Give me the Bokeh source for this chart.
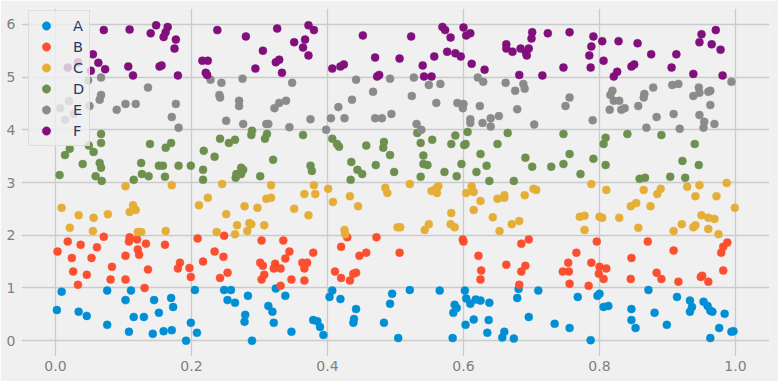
from bokeh.plotting import figure
from bokeh.models import FixedTicker, NumeralTickFormatter, Range1d, Legend
from bokeh.embed import file_html
from bokeh.resources import INLINE

groups = ["A", "B", "C", "D", "E", "F"]
colors = ["#008fd5", "#fc4f30", "#e5ae38", "#6d904f", "#8b8b8b", "#810f7c"]
x_ticks = [0.0, 0.2, 0.4, 0.6, 0.8, 1.0]
y_ticks = [0, 1, 2, 3, 4, 5, 6]

A_x = [0.002, 0.009, 0.034, 0.046, 0.076, 0.076, 0.103, 0.111, 0.108, 0.115, 0.130, 0.145, 0.152, 0.143, 0.159,
       0.170, 0.173, 0.171, 0.192, 0.199, 0.205, 0.208,
       0.248, 0.258, 0.253, 0.264, 0.283, 0.279, 0.278, 0.289, 0.313, 0.319, 0.321, 0.324, 0.338, 0.347, 0.379,
       0.385, 0.389, 0.394, 0.403, 0.407, 0.419, 0.442, 0.439, 0.438, 0.483, 0.492, 0.495,
       0.521, 0.504, 0.565, 0.584, 0.602, 0.604, 0.610, 0.618, 0.625, 0.638, 0.587, 0.590, 0.585, 0.615, 0.603,
       0.637, 0.635, 0.660, 0.657, 0.674, 0.681, 0.679, 0.696, 0.710, 0.734, 0.756,
       0.768, 0.787, 0.797, 0.800, 0.806, 0.813, 0.847, 0.847, 0.853, 0.872, 0.881, 0.899, 0.914, 0.933, 0.936,
       0.933, 0.953, 0.959, 0.963, 0.966, 0.984, 0.976, 0.963, 0.994, 0.997]
A_y = [0.58, 0.93, 0.55, 0.47, 0.95, 0.30, 0.77, 0.95, 0.17, 0.45, 0.45, 0.77, 0.53, 0.13, 0.18,
       0.81, 0.64, 0.20, 0.00, 0.34, 0.96, 0.15,
       0.96, 0.96, 0.77, 0.72, 0.85, 0.49, 0.36, 0.00, 0.66, 0.55, 0.34, 0.99, 0.85, 0.17, 0.39,
       0.37, 0.26, 0.11, 0.83, 0.95, 0.79, 0.60, 0.41, 0.34, 0.34, 0.70, 0.89,
       0.96, 0.05, 0.95, 0.05, 0.95, 0.80, 0.70, 0.78, 0.76, 0.72, 0.68, 0.62, 0.53, 0.40, 0.30,
       0.39, 0.15, 0.17, 0.06, 0.04, 0.98, 0.81, 0.45, 0.95, 0.32, 0.24,
       0.83, 0.01, 0.85, 0.89, 0.64, 0.66, 0.60, 0.39, 0.24, 0.96, 0.53, 0.30, 0.83, 0.76, 0.64,
       0.55, 0.74, 0.66, 0.57, 0.55, 0.51, 0.24, 0.05, 0.17, 0.18]

B_x = [0.003, 0.018, 0.024, 0.026, 0.033, 0.037, 0.046, 0.053, 0.061, 0.071, 0.083, 0.081, 0.103, 0.103, 0.109,
       0.108, 0.120, 0.121, 0.123, 0.133, 0.136, 0.131, 0.161, 0.183, 0.180, 0.197, 0.199, 0.209, 0.217, 0.234, 0.242,
       0.248, 0.247, 0.253, 0.303, 0.335, 0.344, 0.338, 0.301, 0.305, 0.323, 0.321, 0.331, 0.307, 0.303, 0.331,
       0.347, 0.363, 0.370, 0.366, 0.366, 0.379, 0.420, 0.429, 0.411, 0.420, 0.433, 0.438, 0.442, 0.447, 0.457, 0.472,
       0.506, 0.599, 0.600, 0.622, 0.626, 0.625, 0.663, 0.685, 0.696, 0.691, 0.685, 0.682, 0.746, 0.754, 0.755, 0.756,
       0.766, 0.796, 0.788, 0.800, 0.799, 0.810, 0.806, 0.784, 0.847, 0.846, 0.871, 0.884, 0.891, 0.909, 0.916,
       0.949, 0.951, 0.960, 0.979, 0.982, 0.988, 0.982]
B_y = [1.69, 1.88, 1.57, 1.31, 1.06, 1.82, 1.25, 1.57, 1.77, 1.97, 1.40, 1.16, 1.61, 1.16, 1.96,
       1.88, 1.92, 1.73, 1.63, 1.84, 1.35, 1.00, 1.82, 1.48, 1.37, 1.38, 1.21, 1.94, 1.50, 1.69, 1.19,
       1.99, 1.59, 1.29, 1.90, 1.90, 1.69, 1.56, 1.48, 1.42, 1.46, 1.37, 1.37, 1.25, 1.16, 1.04,
       1.16, 1.48, 1.48, 1.37, 1.14, 1.67, 1.78, 1.96, 1.31, 1.19, 1.14, 1.27, 1.29, 1.61, 1.67, 1.96,
       1.67, 1.92, 1.88, 1.61, 1.33, 1.16, 1.44, 1.84, 1.92, 1.42, 1.31, 1.06, 1.31, 1.48, 1.31, 1.08,
       1.67, 1.88, 1.48, 1.40, 1.27, 1.37, 1.17, 1.04, 1.57, 1.17, 1.88, 1.29, 1.17, 1.71, 1.12,
       1.21, 1.23, 1.12, 1.67, 1.78, 1.86, 1.33]

C_x = [0.103, 0.171, 0.009, 0.034, 0.056, 0.077, 0.021, 0.055, 0.114, 0.118, 0.109, 0.121, 0.126, 0.162, 0.211,
       0.224, 0.237,
       0.245, 0.317, 0.251, 0.278, 0.297, 0.310, 0.317, 0.267, 0.285, 0.288, 0.282, 0.307, 0.264, 0.351, 0.372,
       0.366, 0.380, 0.382, 0.401, 0.408, 0.433, 0.445, 0.425, 0.426, 0.485, 0.488,
       0.521, 0.563, 0.560, 0.553, 0.561, 0.612, 0.615, 0.604, 0.625, 0.615, 0.650, 0.660, 0.660, 0.690, 0.703,
       0.707, 0.582, 0.643, 0.549, 0.581, 0.587, 0.503, 0.507, 0.543, 0.653, 0.671, 0.682,
       0.788, 0.810, 0.865, 0.890, 0.885, 0.854, 0.846, 0.875, 0.929, 0.947, 0.941, 0.972, 0.987, 0.999, 0.771,
       0.778, 0.800, 0.804, 0.829, 0.778, 0.857, 0.909, 0.921, 0.938, 0.941, 0.950, 0.960, 0.969, 0.960, 0.975]
C_y = [2.93, 2.95, 2.52, 2.38, 2.33, 2.40, 2.14, 2.08, 2.57, 2.48, 2.44, 2.06, 2.06, 2.08, 2.57,
       2.71, 2.06,
       2.97, 2.95, 2.40, 2.55, 2.52, 2.69, 2.71, 2.19, 2.23, 2.21, 2.08, 2.19, 2.02, 2.50, 2.38,
       2.78, 2.95, 2.78, 2.88, 2.63, 2.74, 2.55, 2.10, 2.02, 2.90, 2.80,
       2.97, 2.93, 2.89, 2.84, 2.80, 2.93, 2.82, 2.80, 2.65, 2.48, 2.69, 2.76, 2.71, 2.76, 2.88,
       2.86, 2.42, 2.34, 2.21, 2.21, 2.15, 2.15, 2.15, 2.10, 2.08, 2.21, 2.27,
       2.97, 2.86, 2.86, 2.88, 2.78, 2.61, 2.55, 2.55, 2.92, 2.95, 2.74, 2.74, 2.99, 2.52, 2.35,
       2.37, 2.35, 2.33, 2.33, 2.10, 2.14, 2.08, 2.21, 2.15, 2.19, 2.38, 2.33, 2.31, 2.12, 2.02]

D_x = [0.067, 0.067, 0.049, 0.056, 0.021, 0.014, 0.040, 0.065, 0.067, 0.006, 0.059, 0.068, 0.139, 0.126, 0.127,
       0.137, 0.115, 0.162, 0.170, 0.152, 0.158, 0.161, 0.181, 0.199, 0.217, 0.217, 0.218, 0.234, 0.242,
       0.255, 0.264, 0.289, 0.288, 0.311, 0.308, 0.320, 0.273, 0.276, 0.273, 0.266, 0.265, 0.301, 0.364, 0.375,
       0.377, 0.407, 0.414, 0.417, 0.435, 0.444, 0.451, 0.434, 0.457, 0.483, 0.482, 0.492, 0.471, 0.498,
       0.532, 0.537, 0.554, 0.541, 0.541, 0.547, 0.537, 0.572, 0.590, 0.588, 0.582, 0.606, 0.603, 0.601, 0.597,
       0.625, 0.619, 0.634, 0.638, 0.650, 0.665, 0.674, 0.691, 0.701, 0.729, 0.747, 0.747, 0.756,
       0.772, 0.791, 0.809, 0.806, 0.809, 0.841, 0.891, 0.859, 0.867, 0.904, 0.922, 0.926, 0.940, 0.946]
D_y = [3.92, 3.75, 3.70, 3.58, 3.64, 3.52, 3.35, 3.37, 3.28, 3.14, 3.12, 3.03, 3.73, 3.37, 3.16,
       3.12, 3.05, 3.66, 3.75, 3.32, 3.32, 3.11, 3.32, 3.32, 3.24, 3.05, 3.60, 3.49, 3.83,
       3.75, 3.81, 3.98, 3.90, 3.92, 3.83, 3.43, 3.28, 3.24, 3.16, 3.16, 3.09, 3.12, 3.90, 3.32,
       3.22, 3.83, 3.73, 3.68, 3.39, 3.24, 3.16, 3.05, 3.70, 3.77, 3.66, 3.52, 3.33, 3.20,
       3.94, 3.75, 3.81, 3.51, 3.35, 3.33, 3.11, 3.20, 3.12, 3.89, 3.73, 3.96, 3.73, 3.71, 3.35,
       3.54, 3.20, 3.32, 3.03, 3.73, 3.94, 3.03, 3.47, 3.30, 3.30, 3.92, 3.35, 3.54,
       3.16, 3.45, 3.85, 3.73, 3.33, 3.92, 3.90, 3.07, 3.09, 3.11, 3.41, 3.09, 3.73, 3.33]

E_x = [0.048, 0.067, 0.067, 0.065, 0.050, 0.020, 0.007, 0.014, 0.027, 0.090, 0.103, 0.118, 0.136, 0.177, 0.171,
       0.181, 0.228,
       0.244, 0.275, 0.241, 0.242, 0.270, 0.270, 0.251, 0.276, 0.310, 0.313, 0.322, 0.329, 0.339, 0.348, 0.344,
       0.375, 0.405, 0.425, 0.416, 0.436, 0.442, 0.467, 0.492, 0.494, 0.470, 0.480, 0.398,
       0.527, 0.549, 0.566, 0.524, 0.560, 0.591, 0.600, 0.599, 0.621, 0.629, 0.662, 0.688, 0.690, 0.676, 0.624,
       0.679, 0.652, 0.640, 0.610, 0.610, 0.628, 0.531, 0.750, 0.756, 0.704, 0.640, 0.538,
       0.790, 0.819, 0.816, 0.821, 0.829, 0.815, 0.832, 0.837, 0.857, 0.866, 0.865, 0.879, 0.884, 0.869, 0.907,
       0.916, 0.909, 0.938, 0.946, 0.947, 0.960, 0.963, 0.963, 0.947, 0.954, 0.969, 0.994, 0.918, 0.953]
E_y = [4.94, 4.99, 4.66, 4.57, 4.45, 4.54, 4.41, 4.19, 4.30, 4.38, 4.49, 4.49, 4.80, 4.49, 4.24,
       4.04, 4.95,
       4.89, 4.97, 4.66, 4.61, 4.55, 4.45, 4.17, 4.11, 4.11, 4.11, 4.41, 4.51, 4.55, 4.89, 4.05,
       4.20, 4.22, 4.22, 4.43, 4.57, 4.95, 4.72, 4.97, 4.30, 4.22, 4.22, 4.00,
       4.99, 4.85, 4.87, 4.64, 4.51, 4.51, 4.49, 4.41, 4.99, 4.91, 4.89, 4.87, 4.78, 4.74, 4.45,
       4.39, 4.26, 4.22, 4.20, 4.13, 4.13, 4.11, 4.45, 4.61, 4.10, 4.06, 4.00,
       4.18, 4.74, 4.66, 4.55, 4.55, 4.38, 4.38, 4.41, 4.45, 4.68, 4.61, 4.80, 4.24, 4.04, 4.85,
       4.87, 4.30, 4.64, 4.80, 4.70, 4.72, 4.74, 4.47, 4.28, 4.15, 4.11, 4.91, 4.02, 4.04]

F_x = [0.071, 0.109, 0.148, 0.165, 0.140, 0.162, 0.159, 0.177, 0.175, 0.055, 0.063, 0.052, 0.073, 0.107, 0.114,
       0.153, 0.156, 0.180, 0.216, 0.224, 0.221, 0.223, 0.238, 0.018, 0.033,
       0.280, 0.326, 0.372, 0.380, 0.367, 0.351, 0.364, 0.372, 0.305, 0.329, 0.324, 0.294, 0.333, 0.407, 0.419,
       0.424, 0.452, 0.470, 0.473, 0.476,
       0.523, 0.506, 0.569, 0.573, 0.581, 0.600, 0.604, 0.610, 0.557, 0.576, 0.588, 0.596, 0.540, 0.542, 0.553,
       0.612, 0.631, 0.663, 0.663, 0.672, 0.684, 0.696, 0.692, 0.693, 0.701, 0.700, 0.724, 0.682, 0.716, 0.747, 0.756,
       0.791, 0.788, 0.785, 0.787, 0.804, 0.828, 0.806, 0.826, 0.821, 0.847, 0.851, 0.856, 0.876, 0.913, 0.906,
       0.938, 0.947, 0.950, 0.971, 0.965, 0.978, 0.981]
F_y = [5.89, 5.90, 5.98, 5.95, 5.83, 5.85, 5.76, 5.71, 5.54, 5.43, 5.27, 5.12, 5.15, 5.20, 5.03,
       5.20, 5.22, 5.03, 5.31, 5.31, 5.08, 5.04, 5.89, 5.18, 5.28,
       5.77, 5.92, 5.98, 5.89, 5.71, 5.66, 5.56, 5.41, 5.50, 5.33, 5.28, 5.16, 5.08, 5.16, 5.20,
       5.24, 5.79, 5.37, 5.01, 5.04,
       5.77, 5.35, 5.95, 5.89, 5.75, 5.94, 5.79, 5.83, 5.39, 5.48, 5.45, 5.39, 5.22, 5.01, 5.01,
       5.25, 5.14, 5.62, 5.54, 5.48, 5.54, 5.54, 5.46, 5.41, 5.85, 5.73, 5.83, 5.04, 5.03, 5.18, 5.85,
       5.77, 5.58, 5.41, 5.18, 5.68, 5.68, 5.31, 5.10, 5.01, 5.20, 5.24, 5.64, 5.43, 5.43, 5.18,
       5.06, 5.66, 5.81, 5.89, 5.62, 5.52, 5.03]

series_x = [A_x, B_x, C_x, D_x, E_x, F_x]
series_y = [A_y, B_y, C_y, D_y, E_y, F_y]

BG = "#f0f0f0"
FONT = "DejaVu Sans"

p = figure(width=778, height=381, output_backend="svg", toolbar_location=None,
           x_range=Range1d(-0.05, 1.05), y_range=Range1d(-0.3, 6.3),
           min_border_left=21, min_border_right=9, min_border_top=8, min_border_bottom=25)
p.background_fill_color = BG
p.border_fill_color = BG
p.outline_line_color = None

for ax in (p.xaxis[0], p.yaxis[0]):
    ax.axis_line_color = None
    ax.major_tick_line_color = None
    ax.minor_tick_line_color = None
    ax.major_tick_out = 0
    ax.major_tick_in = 0
    ax.major_label_text_font = FONT
    ax.major_label_text_font_size = "14px"
    ax.major_label_text_color = "#808080"

p.xaxis[0].ticker = FixedTicker(ticks=x_ticks)
p.xaxis[0].formatter = NumeralTickFormatter(format="0.0")
p.xaxis[0].major_label_standoff = 4
p.yaxis[0].ticker = FixedTicker(ticks=y_ticks)
p.yaxis[0].formatter = NumeralTickFormatter(format="0")
p.yaxis[0].major_label_standoff = 6

p.xgrid.grid_line_color = "#cbcbcb"
p.ygrid.grid_line_color = "#cbcbcb"
p.xgrid.grid_line_width = 1.3
p.ygrid.grid_line_width = 1.3

items = []
for name, col, xs, ys in zip(groups, colors, series_x, series_y):
    r = p.scatter(xs, ys, size=8, fill_color=col, line_color=col, line_width=0.5)
    items.append((name, [r]))

legend = Legend(items=items, location=(7, 210))
legend.background_fill_color = BG
legend.background_fill_alpha = 0.8
legend.border_line_color = "#d8d8d8"
legend.border_line_width = 1
legend.border_line_alpha = 0.8
legend.padding = 4
legend.margin = 0
legend.spacing = 0
legend.glyph_width = 26
legend.glyph_height = 21
legend.label_height = 21
legend.label_width = 12
legend.label_standoff = 14
legend.label_text_font = FONT
legend.label_text_font_size = "14.5px"
legend.label_text_color = "#1f3b63"
p.add_layout(legend)

open("out.html", "w").write(file_html(p, INLINE))
